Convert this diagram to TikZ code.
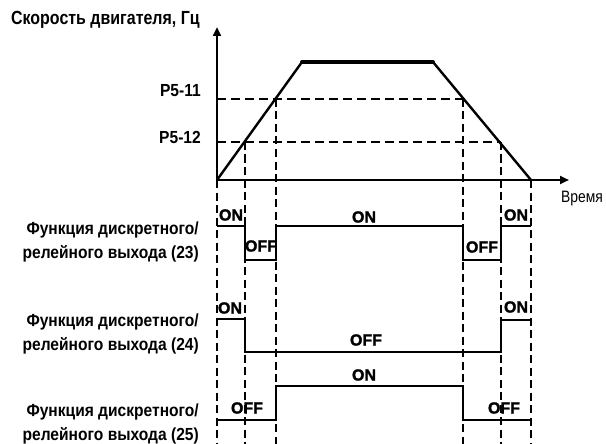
\documentclass[tikz,border=0pt]{standalone}
\usepackage{fontspec}
\setmainfont{Liberation Sans}
\newfontfamily\narfont[FakeStretch=0.89]{Liberation Sans}
\newfontfamily\titlefont[FakeStretch=0.84]{Liberation Sans}
\newfontfamily\timefont[FakeStretch=0.84]{Liberation Sans}
\newfontfamily\onofffont[FakeBold=1.6]{Liberation Sans Bold}
\usetikzlibrary{arrows.meta}
\begin{document}
\begin{tikzpicture}[x=1pt,y=-1pt,
  axisarrow/.style={line width=2.6pt,-{Triangle[length=9pt,width=8pt]}},
  speedline/.style={line width=2.4pt,line join=round,line cap=round},
  topline/.style={line width=4pt,line cap=round},
  hdash/.style={line width=1.8pt,dash pattern=on 9pt off 5pt},
  vdash/.style={line width=2.6pt,dash pattern=on 8pt off 4.5pt},
  sigline/.style={line width=2.4pt,line join=miter},
  lbl/.style={font=\narfont\bfseries\fontsize{17.5}{24}\selectfont,align=right,anchor=east,inner sep=0pt},
  plbl/.style={font=\narfont\bfseries\fontsize{17.5}{20}\selectfont,anchor=east,inner sep=0pt},
  st/.style={font=\onofffont\fontsize{16}{16}\selectfont,inner sep=0pt}
]
\useasboundingbox (0,0) rectangle (606,444);

% key coordinates
\coordinate (O) at (217,180);
\coordinate (Ytop) at (217,27);
\coordinate (Xend) at (569,180);
\coordinate (Ybot) at (217,444);
\coordinate (T1) at (302,62);
\coordinate (T2) at (433,62);
\coordinate (Z) at (531,180);
\coordinate (A11) at (217,99);
\coordinate (A12) at (217,142);
\coordinate (U12) at (245,142);
\coordinate (U11) at (276,99);
\coordinate (D11) at (463,99);
\coordinate (D12) at (501,142);
\coordinate (B1) at (245,444);
\coordinate (B2) at (276,444);
\coordinate (B3) at (463,444);
\coordinate (B4) at (501,444);
\coordinate (B5) at (531,444);

% axes
\draw[axisarrow] (O) -- (Ytop);
\draw[axisarrow] (O) -- (Xend);

% dashed reference lines
\draw[hdash] (A11) -- (D11);
\draw[hdash] (A12) -- (D12);
\draw[vdash] (O) -- (Ybot);
\draw[vdash] (U12) -- (B1);
\draw[vdash] (U11) -- (B2);
\draw[vdash] (D11) -- (B3);
\draw[vdash] (D12) -- (B4);
\draw[vdash] (Z) -- (B5);

% speed profile
\draw[speedline] (O) -- (T1) -- (T2) -- (Z);
\draw[topline] (T1) -- (T2);

% texts on axes
\node[font=\titlefont\bfseries\fontsize{19}{20}\selectfont,anchor=west,inner sep=0pt] (title) at (11,20) {Скорость двигателя, Гц};
\node[font=\timefont\fontsize{16.5}{20}\selectfont,anchor=east,inner sep=0pt] (time) at (603,199) {Время};
\node[plbl] (p11) at (201,91) {P5-11};
\node[plbl] (p12) at (201,137) {P5-12};

% output 23
\draw[sigline] (217,226) -- (245,226) -- (245,260) -- (276,260) -- (276,226) -- (463,226) -- (463,260) -- (501,260) -- (501,226) -- (531,226);
\node[st] (s23a) at (231,215) {ON};
\node[st] (s23b) at (261,246) {OFF};
\node[st] (s23c) at (364,217) {ON};
\node[st] (s23d) at (482,247) {OFF};
\node[st] (s23e) at (516,215) {ON};
\node[lbl] (l23) at (199,242) {Функция дискретного/\\релейного выхода (23)};

% output 24
\draw[sigline] (217,319) -- (245,319) -- (245,352) -- (501,352) -- (501,320) -- (531,320);
\node[st] (s24a) at (230,308) {ON};
\node[st] (s24b) at (366,340) {OFF};
\node[st] (s24c) at (516,307) {ON};
\node[lbl] (l24) at (199,334) {Функция дискретного/\\релейного выхода (24)};

% output 25
\draw[sigline] (217,420) -- (276,420) -- (276,386) -- (463,386) -- (463,420) -- (531,420);
\node[st] (s25a) at (247,408) {OFF};
\node[st] (s25b) at (364,375) {ON};
\node[st] (s25c) at (504,408) {OFF};
\node[lbl] (l25) at (199,424) {Функция дискретного/\\релейного выхода (25)};
\end{tikzpicture}
\end{document}
